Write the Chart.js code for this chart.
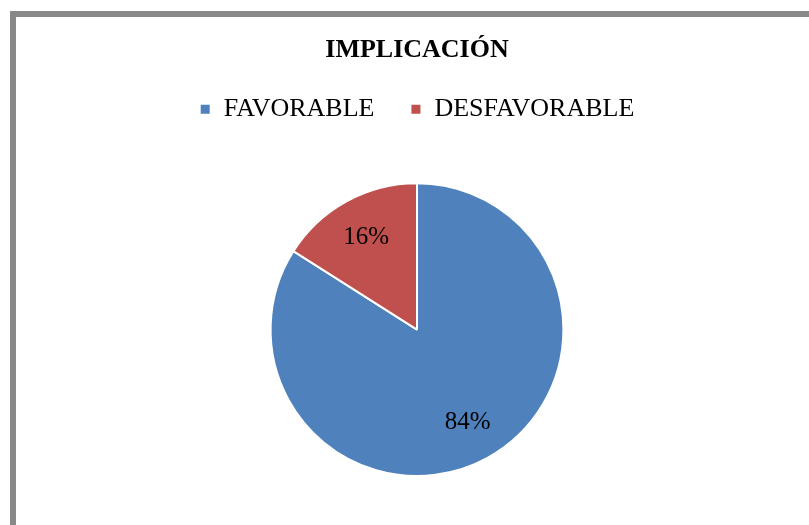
<!DOCTYPE html>
<html>
<head>
<meta charset="utf-8">
<script src="https://cdn.jsdelivr.net/npm/chart.js@4"></script>
<style>
  html, body { margin: 0; padding: 0; background: #fff; overflow: hidden; }
  #frame {
    position: absolute; left: 10px; top: 11px;
    width: 900px; height: 600px;
    border: 6px solid #888;
  }
  #wrap { position: absolute; left: 0; top: 0; width: 809px; height: 525px; }
</style>
</head>
<body>
<div id="frame"></div>
<div id="wrap"><canvas id="myChart"></canvas></div>
<script>
const labels = ["FAVORABLE", "DESFAVORABLE"];
const values = [84, 16];
const colors = ["#4F81BD", "#C0504D"];

const ctx = document.getElementById("myChart").getContext("2d");

// room under the legend
const legendMargin = {
  id: "legendMargin",
  beforeInit(chart) {
    const fit = chart.legend.fit;
    chart.legend.fit = function () {
      fit.bind(chart.legend)();
      this.height += 50;
    };
  },
};

// percent text inside the slices
const sliceLabels = {
  id: "sliceLabels",
  afterDatasetsDraw(chart) {
    const c = chart.ctx;
    const data = chart.data.datasets[0].data;
    const total = data.reduce((a, b) => a + b, 0);
    chart.getDatasetMeta(0).data.forEach((arc, i) => {
      const p = arc.getProps(["x", "y", "startAngle", "endAngle", "outerRadius"], true);
      const mid = (p.startAngle + p.endAngle) / 2;
      const r = p.outerRadius * 0.72;
      c.save();
      c.font = "25px 'Liberation Serif', 'Times New Roman', serif";
      c.fillStyle = "#000";
      c.textAlign = "center";
      c.textBaseline = "middle";
      c.fillText(Math.round((data[i] / total) * 100) + "%", p.x + Math.cos(mid) * r, p.y + Math.sin(mid) * r);
      c.restore();
    });
  },
};

const myChart = new Chart(ctx, {
  type: "pie",
  data: {
    labels: labels,
    datasets: [
      {
        data: values,
        backgroundColor: colors,
        borderColor: "#fff",
        borderWidth: 2,
      },
    ],
  },
  options: {
    responsive: true,
    maintainAspectRatio: false,
    animation: false,
    layout: { padding: { top: 25, left: 25, right: 0, bottom: 48 } },
    plugins: {
      title: {
        display: true,
        text: "IMPLICACIÓN",
        color: "#000",
        font: { family: "'Liberation Serif', 'Times New Roman', serif", size: 26, weight: "bold" },
        padding: { top: 10, bottom: -6 },
      },
      legend: {
        position: "top",
        labels: {
          color: "#000",
          boxWidth: 11,
          boxHeight: 11,
          padding: 36,
          font: { family: "'Liberation Serif', 'Times New Roman', serif", size: 26 },
        },
      },
      tooltip: { enabled: false },
    },
  },
  plugins: [legendMargin, sliceLabels],
});
</script>
</body>
</html>
